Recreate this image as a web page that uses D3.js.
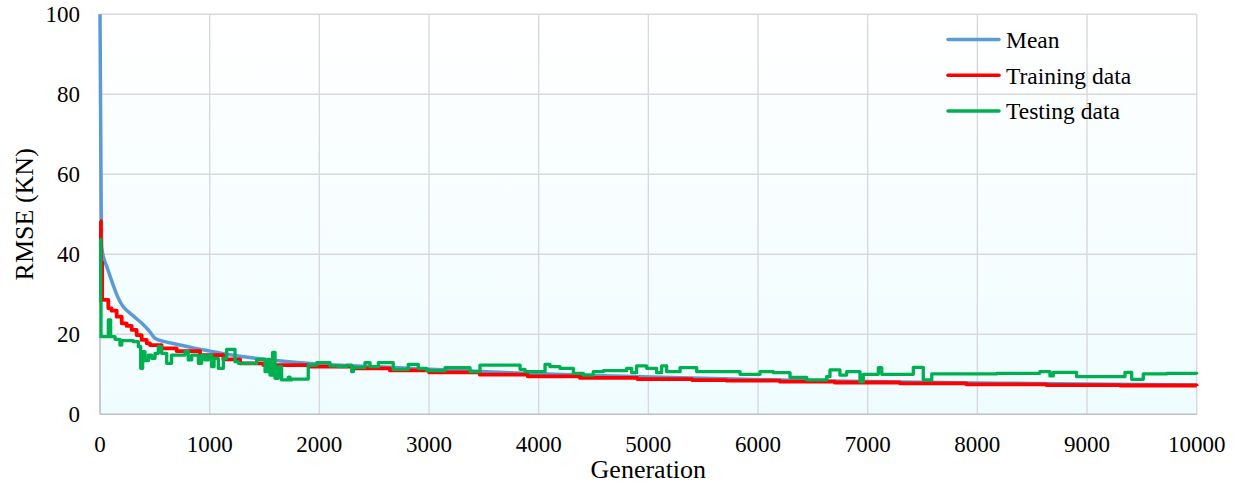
<!DOCTYPE html>
<html>
<head>
<meta charset="utf-8">
<script src="https://cdn.jsdelivr.net/npm/d3@7"></script>
<style>
  html, body { margin: 0; padding: 0; background: #ffffff; }
  svg { display: block; }
  svg text { font-family: "Liberation Serif", "Tinos", "DejaVu Serif", "Noto Serif", "Times New Roman", Times, serif; }
</style>
</head>
<body>
<svg id="chart" width="1239" height="486"></svg>
<script>
// ---- data ----
const xTicks = [0, 1000, 2000, 3000, 4000, 5000, 6000, 7000, 8000, 9000, 10000];
const yTicks = [0, 20, 40, 60, 80, 100];
const seriesNames = ["Mean", "Training data", "Testing data"];

const meanData = [
  [0,100],[10,55],[15,42],[40,38.5],[61,37],[91,34.6],[120,32.3],[152,30.0],[182,28.2],[212,26.9],[260,25.6],[304,24.6],
  [350,23.5],[395,22.4],[450,20.8],[501,19.0],[600,18.1],[699,17.5],[850,16.6],[1003,15.8],[1200,14.8],[1459,13.9],[1914,12.7],[2674,11.7],
  [3737,10.4],[4500,9.7],[5500,9.0],[6500,8.4],[7500,8.0],[8500,7.7],[9500,7.45],[10000,7.35]
];

const trainData = [
  [0,48.3],[8,38],[20,28.6],[76,26.5],[106,25.9],[152,24.4],[198,22.75],[243,22.1],[289,21.1],
  [334,19.8],[380,18.6],[426,17.75],[456,17.3],[562,16.5],[699,15.8],[912,14.8],[1125,13.75],
  [1277,12.75],[1489,12.3],[1900,11.9],[2300,11.5],[2643,11.0],[3000,10.5],[3464,9.9],
  [3900,9.5],[4376,9.1],[4900,8.8],[5400,8.55],[5713,8.4],[6200,8.15],[6700,7.95],
  [7293,7.75],[7900,7.5],[8630,7.3],[9300,7.2],[10000,7.1]
];

const testData = [
  [0,43.7],[6,28],[9,19.4],[76,23.6],[97,19.4],[137,18.75],[182,17.3],[198,18.4],[304,18.15],
  [350,16.9],[371,11.5],[389,15.65],[410,13.4],[441,14.8],[471,14],[502,15.25],[532,16.9],
  [562,15.25],[608,12.75],[653,14.8],[775,15.65],[805,13.6],[836,14.8],[897,12.75],[927,14.8],
  [957,13.6],[988,14.8],[1018,11.9],[1040,14],[1079,11.5],[1125,14],[1155,16.25],[1231,13.15],
  [1261,12.75],[1429,13.75],[1505,10.65],[1535,13.75],[1550,9.8],[1574,15.5],[1596,9],
  [1626,11.9],[1656,8.6],[1717,9.3],[1732,8.6],[1748,8.8],[1899,12.3],[1976,12.9],[2097,12.1],
  [2173,11.9],[2249,12.3],[2295,10.65],[2310,11.75],[2416,12.9],[2462,11.9],[2538,12.9],
  [2674,11.25],[2811,12.5],[2902,11.5],[2978,10.9],[3146,11.65],[3374,10.65],[3465,12.3],
  [3830,11.25],[3875,10.65],[4058,12.5],[4103,11.9],[4194,11.5],[4316,10.25],[4407,9.8],
  [4498,10.65],[4589,10.9],[4802,11.5],[4848,10.4],[4893,12.1],[4985,11.5],[5076,10.4],
  [5121,12.1],[5167,10.65],[5289,11.65],[5441,10.65],[5836,10],[6018,10.65],[6140,10.4],
  [6292,9.25],[6444,8.6],[6626,9.4],[6656,11.1],[6747,9.8],[6808,10.65],[6930,8.15],
  [6960,10],[7097,11.65],[7128,10],[7416,11.75],[7507,8.6],[7584,10.1],[8176,10.25],
  [8569,10.65],[8662,9.6],[8692,10.5],[8905,9.4],[9346,10.5],[9407,8.75],[9513,10.1],
  [9726,10.25],[10000,10]
];

// ---- layout ----
const svg = d3.select("#chart");
const mLeft = 100, mRight = 1196.7, mTop = 14.3, mBottom = 414.3;
const x = d3.scaleLinear().domain([0, 10000]).range([mLeft, mRight]);
const y = d3.scaleLinear().domain([0, 100]).range([mBottom, mTop]);
const FONT = '"Liberation Serif", "Tinos", "DejaVu Serif", "Noto Serif", "Times New Roman", Times, serif';

const defs = svg.append("defs");
const grad = defs.append("linearGradient").attr("id", "bg").attr("x1", 0).attr("y1", 0).attr("x2", 0).attr("y2", 1);
grad.append("stop").attr("offset", "0%").attr("stop-color", "#ffffff");
grad.append("stop").attr("offset", "100%").attr("stop-color", "#effcff");

svg.append("rect").attr("x", mLeft).attr("y", mTop).attr("width", mRight - mLeft).attr("height", mBottom - mTop)
  .attr("fill", "url(#bg)");

// grid
svg.append("g").selectAll("line").data(yTicks.filter(d => d > 0)).join("line")
  .attr("x1", mLeft).attr("x2", mRight).attr("y1", d => y(d)).attr("y2", d => y(d))
  .attr("stroke", "#d9d9d9").attr("stroke-width", 1.4);
svg.append("g").selectAll("line").data(xTicks.filter(d => d > 0)).join("line")
  .attr("x1", d => x(d)).attr("x2", d => x(d)).attr("y1", mTop).attr("y2", mBottom)
  .attr("stroke", "#d9d9d9").attr("stroke-width", 1.4);

// axes lines
svg.append("line").attr("x1", mLeft).attr("x2", mLeft).attr("y1", mTop).attr("y2", mBottom)
  .attr("stroke", "#bfbfbf").attr("stroke-width", 1.6);
svg.append("line").attr("x1", mLeft).attr("x2", mRight).attr("y1", mBottom).attr("y2", mBottom)
  .attr("stroke", "#bfbfbf").attr("stroke-width", 1.6);

// tick labels
svg.append("g").selectAll("text").data(yTicks).join("text")
  .attr("x", 80).attr("y", d => y(d)).attr("dy", "0.35em").attr("text-anchor", "end")
  .attr("font-family", FONT).attr("font-size", 23).attr("fill", "#000").text(d => d);
svg.append("g").selectAll("text").data(xTicks).join("text")
  .attr("x", d => x(d)).attr("y", 452).attr("text-anchor", "middle")
  .attr("font-family", FONT).attr("font-size", 23).attr("fill", "#000").text(d => d);

// axis titles
svg.append("text").attr("x", x(5000)).attr("y", 478).attr("text-anchor", "middle")
  .attr("font-family", FONT).attr("font-size", 26).attr("fill", "#000").text("Generation");
svg.append("text").attr("transform", `translate(33,${(mTop + mBottom) / 2}) rotate(-90)`)
  .attr("text-anchor", "middle").attr("font-family", FONT).attr("font-size", 26).attr("fill", "#000").text("RMSE (KN)");

// lines
const colors = ["#5b9bd5", "#ff0000", "#00b050"];
const lineSmooth = d3.line().x(d => x(d[0])).y(d => y(d[1])).curve(d3.curveMonotoneX);
const lineStep = d3.line().x(d => x(d[0])).y(d => y(d[1])).curve(d3.curveStepAfter);

svg.append("path").attr("d", lineSmooth(meanData)).attr("fill", "none")
  .attr("stroke", colors[0]).attr("stroke-width", 3.5).attr("stroke-linejoin", "round");
svg.append("path").attr("d", lineStep(trainData)).attr("fill", "none")
  .attr("stroke", colors[1]).attr("stroke-width", 3.8).attr("stroke-linejoin", "round");
svg.append("path").attr("d", lineStep(testData)).attr("fill", "none")
  .attr("stroke", colors[2]).attr("stroke-width", 3.3).attr("stroke-linejoin", "round");

// legend
const lg = svg.append("g");
seriesNames.forEach((name, i) => {
  const ly = 39.5 + i * 35.8;
  lg.append("line").attr("x1", 948).attr("x2", 999).attr("y1", ly).attr("y2", ly)
    .attr("stroke", colors[i]).attr("stroke-width", 3.5).attr("stroke-linecap", "round");
  lg.append("text").attr("x", 1006).attr("y", ly).attr("dy", "0.35em")
    .attr("font-family", FONT).attr("font-size", 23.5).attr("fill", "#000").text(name);
});
</script>
</body>
</html>
